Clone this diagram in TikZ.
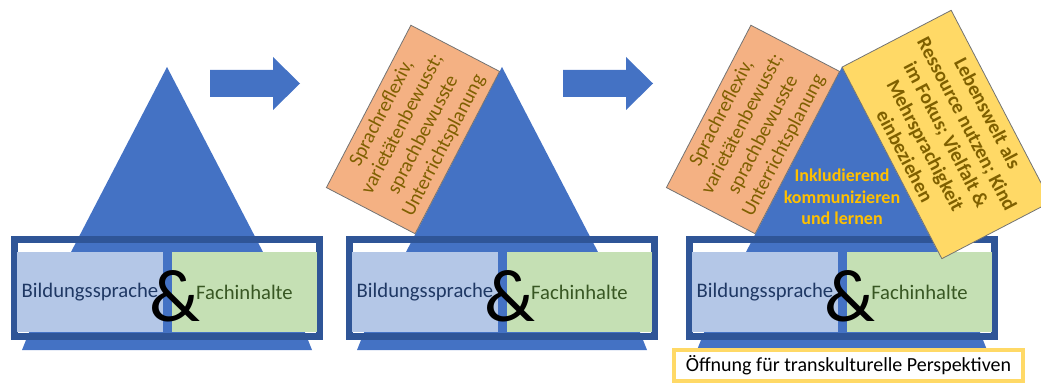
\documentclass[tikz,border=0pt]{standalone}
\usepackage{fontspec}
\setmainfont{Carlito}
\usepackage{tikz}
\newlength{\diagunit}
\setlength{\diagunit}{0.75pt}
\definecolor{TriBlue}{HTML}{4472C4}
\definecolor{FrameBlue}{HTML}{2F5597}
\definecolor{SpracheFill}{HTML}{B4C7E7}
\definecolor{FachFill}{HTML}{C5E0B4}
\definecolor{ReflexFill}{HTML}{F4B183}
\definecolor{WeltFill}{HTML}{FFD966}
\definecolor{SpracheText}{HTML}{1F3864}
\definecolor{FachText}{HTML}{385723}
\definecolor{BrownText}{HTML}{7F6000}
\definecolor{GoldText}{HTML}{FFC000}
\begin{document}
\begin{tikzpicture}[x=1\diagunit,y=-1\diagunit,
  box/.style n args={3}{fill=#1,text=#2,minimum width=#3\diagunit,minimum height=80\diagunit,inner sep=0pt,outer sep=0pt,font=\fontsize{15.5}{18}\selectfont},
  amp/.style={anchor=base,inner sep=0pt,font=\fontsize{56}{56}\selectfont},
  tilted/.style n args={4}{fill=#1,draw=black!55,line width=0.6pt,rotate=#2,minimum width=#3\diagunit,minimum height=#4\diagunit,align=center,inner sep=0pt,text=BrownText},
  base/.style={fill=TriBlue}]
\useasboundingbox (0,0) rectangle (1041,384);
\clip (0,0) rectangle (1041,384);
\foreach \x/\n in %
{210/ab,563/bc} {
   \fill[base] (\x,70) -- (\x+63,70) -- (\x+63,57) -- (\x+90,83.5) -- (\x+63,110) -- (\x+63,97) -- (\x,97) -- cycle;
}
\foreach \x/\n in %
{167/a,502/b,842/c} {
   \fill[base] (\x-137,330) -- (\x+137,330) -- (\x+145,350) -- (\x-145,350) -- cycle;
   \fill[base] (\x,67) -- (\x+138,333) -- (\x-138,333) -- cycle;
   \draw[FrameBlue,line width=7\diagunit] (\x-152.5,239.5) rectangle (\x+152.5,336.5);
   \node[box={SpracheFill}{SpracheText}{146}] (sprache-\n) at (\x-77,292) {Bildungssprache};
   \node[box={FachFill}{FachText}{145}] (fach-\n) at (\x+77.5,292) {Fachinhalte};
   \node[amp] (und-\n) at (\x+8,321) {\&};
}
\foreach \x/\n in %
{502/b,842/c} {
   \node[tilted={ReflexFill}{62.5}{183}{100},font=\fontsize{15}{17.5}\selectfont] (reflex-\n) at (\x-89,129.5)
      {Sprachreflexiv,\\varietätenbewusst;\\sprachbewusste\\Unterrichtsplanung};
}
\node[text=GoldText,align=center,font=\bfseries\fontsize{13.5}{16}\selectfont] (inkl) at (842,197)
   {Inkludierend\\kommunizieren\\und lernen};
\node[tilted={WeltFill}{-62.5}{216}{123},font=\bfseries\fontsize{15}{17.5}\selectfont] (welt) at (946.5,134.5)
   {Lebenswelt als\\Ressource nutzen; Kind\\im Fokus; Vielfalt \&\\Mehrsprachigkeit\\einbeziehen};
\node[draw=WeltFill,line width=4\diagunit,fill=white,minimum width=349\diagunit,minimum height=31\diagunit,inner sep=0pt,font=\fontsize{15}{17}\selectfont] (offen) at (848.5,365.5)
   {Öffnung für transkulturelle Perspektiven};
\end{tikzpicture}
\end{document}
